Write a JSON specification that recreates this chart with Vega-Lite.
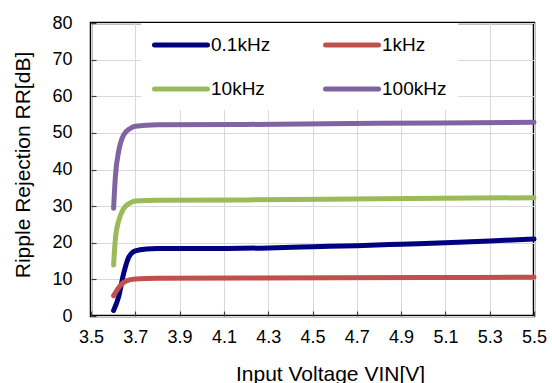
{
  "$schema": "https://vega.github.io/schema/vega-lite/v6.json",
  "width": 443,
  "height": 293,
  "autosize": {"type": "none"},
  "padding": {"left": 91, "top": 23, "right": 18, "bottom": 67},
  "background": "white",
  "config": {
    "font": "Liberation Sans",
    "view": {"stroke": "#000000", "strokeWidth": 2.5},
    "axis": {
      "domain": false,
      "gridColor": "#d9d9d9",
      "gridWidth": 1,
      "tickColor": "#404040",
      "tickSize": -5,
      "tickWidth": 1.2,
      "labelFont": "Liberation Sans",
      "labelFontSize": 18,
      "labelColor": "#000000",
      "labelFlush": false,
      "labelOverlap": false,
      "titleFont": "Liberation Sans",
      "titleFontSize": 21,
      "titleFontWeight": "normal",
      "titleColor": "#000000"
    }
  },
  "data": {
    "values": [
      {"s": "0.1kHz", "x": 3.602, "y": 1.5},
      {"s": "0.1kHz", "x": 3.625, "y": 5.3},
      {"s": "0.1kHz", "x": 3.647, "y": 11.5},
      {"s": "0.1kHz", "x": 3.67, "y": 16.0},
      {"s": "0.1kHz", "x": 3.7, "y": 17.8},
      {"s": "0.1kHz", "x": 3.75, "y": 18.3},
      {"s": "0.1kHz", "x": 3.8, "y": 18.4},
      {"s": "0.1kHz", "x": 4.0, "y": 18.4},
      {"s": "0.1kHz", "x": 4.3, "y": 18.6},
      {"s": "0.1kHz", "x": 4.5, "y": 18.9},
      {"s": "0.1kHz", "x": 4.7, "y": 19.2},
      {"s": "0.1kHz", "x": 4.9, "y": 19.6},
      {"s": "0.1kHz", "x": 5.1, "y": 20.0},
      {"s": "0.1kHz", "x": 5.3, "y": 20.5},
      {"s": "0.1kHz", "x": 5.5, "y": 21.0},
      {"s": "1kHz", "x": 3.602, "y": 5.5},
      {"s": "1kHz", "x": 3.632, "y": 8.3},
      {"s": "1kHz", "x": 3.66, "y": 9.6},
      {"s": "1kHz", "x": 3.7, "y": 10.1},
      {"s": "1kHz", "x": 3.8, "y": 10.3},
      {"s": "1kHz", "x": 4.2, "y": 10.4},
      {"s": "1kHz", "x": 5.0, "y": 10.5},
      {"s": "1kHz", "x": 5.5, "y": 10.6},
      {"s": "10kHz", "x": 3.602, "y": 13.9},
      {"s": "10kHz", "x": 3.61, "y": 21.0},
      {"s": "10kHz", "x": 3.625, "y": 26.0},
      {"s": "10kHz", "x": 3.647, "y": 29.3},
      {"s": "10kHz", "x": 3.677, "y": 30.9},
      {"s": "10kHz", "x": 3.7, "y": 31.4},
      {"s": "10kHz", "x": 3.8, "y": 31.6},
      {"s": "10kHz", "x": 4.2, "y": 31.7},
      {"s": "10kHz", "x": 4.8, "y": 32.0},
      {"s": "10kHz", "x": 5.5, "y": 32.3},
      {"s": "100kHz", "x": 3.602, "y": 29.4},
      {"s": "100kHz", "x": 3.61, "y": 38.0},
      {"s": "100kHz", "x": 3.625, "y": 45.0},
      {"s": "100kHz", "x": 3.647, "y": 49.4},
      {"s": "100kHz", "x": 3.677, "y": 51.2},
      {"s": "100kHz", "x": 3.7, "y": 51.8},
      {"s": "100kHz", "x": 3.8, "y": 52.2},
      {"s": "100kHz", "x": 4.2, "y": 52.3},
      {"s": "100kHz", "x": 4.8, "y": 52.6},
      {"s": "100kHz", "x": 5.5, "y": 52.9}
    ]
  },
  "mark": {"type": "line", "strokeWidth": 5, "strokeCap": "round", "strokeJoin": "round", "interpolate": "monotone"},
  "encoding": {
    "x": {
      "field": "x",
      "type": "quantitative",
      "scale": {"domain": [3.5, 5.5], "nice": false, "zero": false},
      "axis": {
        "values": [3.5, 3.7, 3.9, 4.1, 4.3, 4.5, 4.7, 4.9, 5.1, 5.3, 5.5],
        "format": ".1f",
        "title": "Input Voltage VIN[V]",
        "labelPadding": 17,
        "titleX": 239,
        "titleY": 64,
        "titleBaseline": "alphabetic",
        "titleAnchor": "middle"
      }
    },
    "y": {
      "field": "y",
      "type": "quantitative",
      "scale": {"domain": [0, 80], "nice": false},
      "axis": {
        "values": [0, 10, 20, 30, 40, 50, 60, 70, 80],
        "title": "Ripple Rejection RR[dB]",
        "labelPadding": 24,
        "titleAngle": -90,
        "titleX": -61.5,
        "titleY": 141.5,
        "titleBaseline": "alphabetic",
        "titleAlign": "center"
      }
    },
    "color": {
      "field": "s",
      "type": "nominal",
      "scale": {
        "domain": ["0.1kHz", "1kHz", "10kHz", "100kHz"],
        "range": ["#000080", "#C0504D", "#9BBB59", "#8064A2"]
      },
      "legend": {
        "title": null,
        "orient": "none",
        "legendX": 50,
        "legendY": 0,
        "columns": 2,
        "direction": "horizontal",
        "symbolType": "stroke",
        "symbolSize": 2809,
        "symbolStrokeWidth": 5,
        "labelFont": "Liberation Sans",
        "labelFontSize": 19,
        "labelColor": "#000000",
        "labelOffset": 1,
        "columnPadding": 44,
        "rowPadding": 23,
        "padding": 11,
        "fillColor": "white",
        "strokeColor": null,
        "encode": {
          "symbols": {"update": {"strokeCap": {"value": "round"}, "y": {"value": 11}}},
          "labels": {"update": {"y": {"value": 11}, "baseline": {"value": "middle"}}}
        }
      }
    }
  }
}
